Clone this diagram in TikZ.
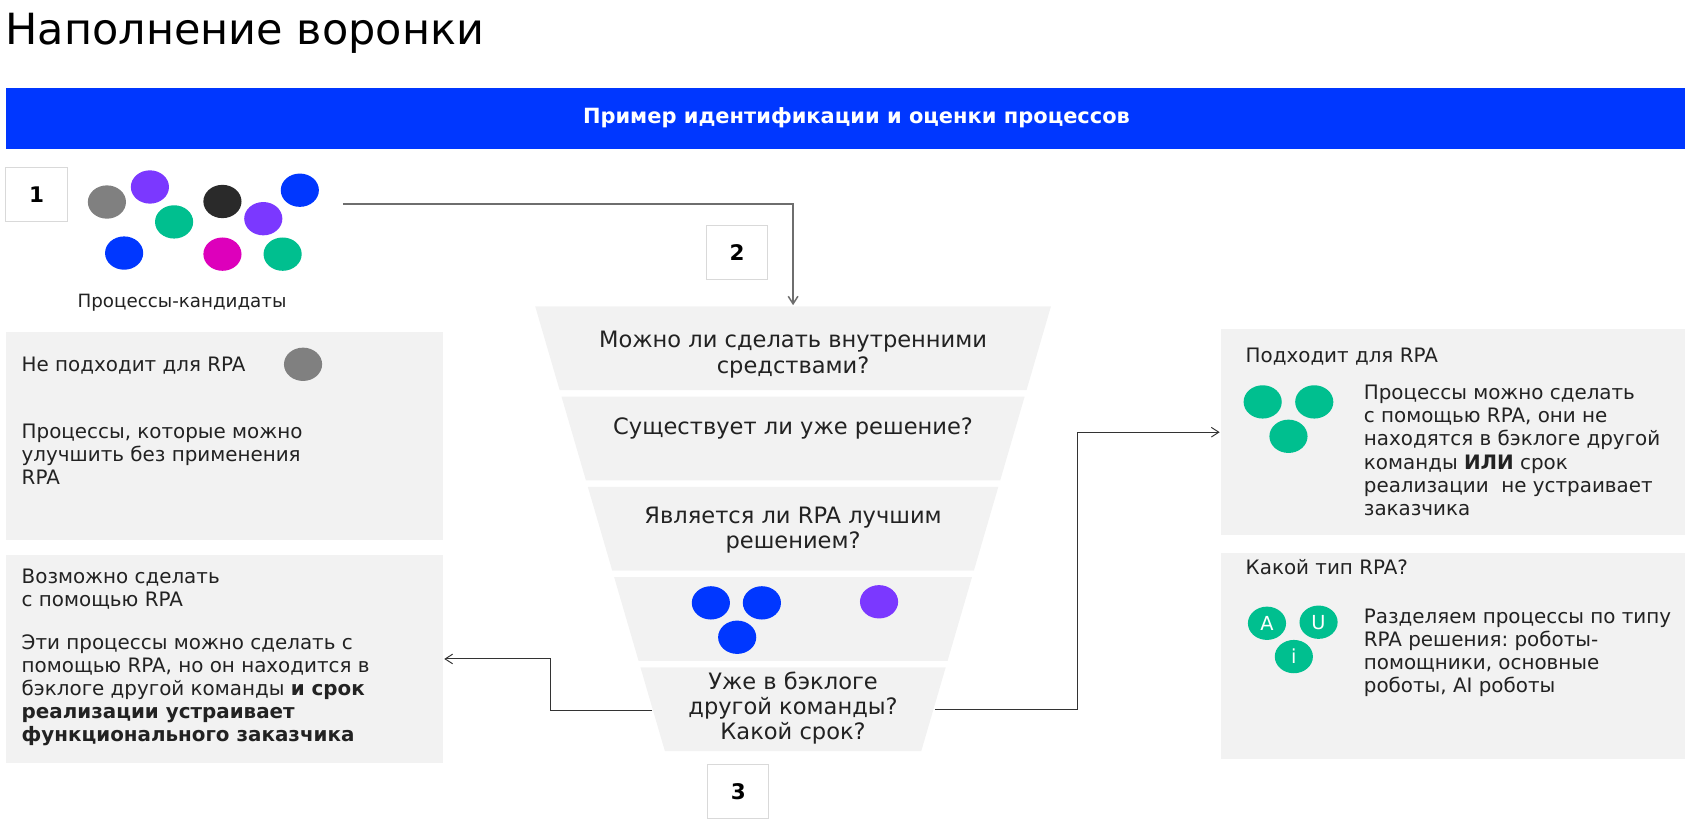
\documentclass[tikz,border=0pt]{standalone}
\usepackage{fontspec}
\setmainfont{DejaVu Sans}
\usetikzlibrary{arrows.meta,positioning,shapes.geometric}
\frenchspacing

\definecolor{brandblue}{HTML}{0037FF}
\definecolor{panelgray}{HTML}{F2F2F2}
\definecolor{dotgray}{HTML}{808080}
\definecolor{dotpurple}{HTML}{7B38FF}
\definecolor{dotgreen}{HTML}{00BF8F}
\definecolor{dotblack}{HTML}{2A2A2A}
\definecolor{dotblue}{HTML}{0037FF}
\definecolor{dotmagenta}{HTML}{DD00BB}
\definecolor{txtdark}{HTML}{222222}
\definecolor{linegray}{HTML}{6E6E6E}

\newcommand{\fsz}[2]{\fontsize{#1}{#2}\selectfont}

\begin{document}
\begin{tikzpicture}[x=1pt, y=-1pt,
    procdot/.style={ellipse, minimum width=35.5pt, minimum height=31pt, inner sep=0pt, fill=#1},
    numbox/.style={draw=black!15, fill=white, line width=.8pt, minimum width=57pt, minimum height=50pt, font=\fsz{20}{24}\bfseries},
    panel/.style={fill=panelgray, inner sep=0pt, anchor=north west},
    boxtext/.style={anchor=base west, align=left, inner sep=0pt, text=txtdark, font=\fsz{18.5}{21.5}},
    funneltext/.style={align=center, inner sep=0pt, text=txtdark, font=\fsz{21}{23.5}},
    flow/.style={-{Straight Barb[length=7pt,width=9pt]}, line width=.9pt, black!80},
  ]
  \useasboundingbox (0,0) rectangle (1568,765);

  \node[anchor=base west, inner sep=0pt, font=\fsz{40}{48}] (title) at (5,41) {Наполнение воронки};
  \node[panel, fill=brandblue, minimum width=1563pt, minimum height=56pt] (bar) at (5,82) {};
  \node[text=white, font=\fsz{19.5}{23}\bfseries] (bartitle) at (797,110) {Пример идентификации и оценки процессов};

  % candidates
  \node[numbox] (num1) at (34,181) {1};
  \foreach \name/\x/\y/\c in {a/99.5/188/dotgray, b/139.5/174/dotpurple, c/162/206.5/dotgreen,
      d/207/187.5/dotblack, e/245/203.5/dotpurple, f/279/177/dotblue,
      g/115.5/235.5/dotblue, h/207/236.5/dotmagenta, i/263/236.5/dotgreen}
    \node[procdot=\c] (cand-\name) at (\x,\y) {};
  \node[anchor=base west, inner sep=0pt, text=txtdark, font=\fsz{17}{20}] (candlabel) at (72,286) {Процессы-кандидаты};

  % funnel
  \foreach \i/\yt in {1/285,2/369,3/453,4/537,5/621} {
    \pgfmathsetmacro{\yb}{\yt+78}
    \pgfmathsetmacro{\wt}{240-0.2916*(\yt-285)}
    \pgfmathsetmacro{\wb}{240-0.2916*(\yb-285)}
    \fill[panelgray] (738-\wt,\yt) -- (738+\wt,\yt) -- (738+\wb,\yb) -- (738-\wb,\yb) -- cycle;
  }
  \node[funneltext] (q1) at (738,330) {Можно ли сделать внутренними\\средствами?};
  \node[funneltext] (q2) at (738,399) {Существует ли уже решение?};
  \node[funneltext] (q3) at (738,493) {Является ли RPA лучшим\\решением?};
  \foreach \name/\x/\y/\c in {a/661.5/561/dotblue, b/709/561/dotblue, c/686/593/dotblue, d/818/560/dotpurple}
    \node[procdot=\c] (kept-\name) at (\x,\y) {};
  \node[funneltext] (q5) at (738,659) {Уже в бэклоге\\другой команды?\\Какой срок?};
  \node[numbox] (num2) at (686,235) {2};
  \node[numbox] (num3) at (687,736.5) {3};

  % left panels (multi-line texts sit on their last baseline)
  \node[panel, minimum width=407pt, minimum height=193pt] (nofit) at (5,309) {};
  \node[boxtext] (nofit-head) at (20,346) {Не подходит для RPA};
  \node[procdot=dotgray] (nofit-dot) at (282,339) {};
  \node[boxtext] (nofit-body) at (20,451) {Процессы, которые можно\\улучшить без применения\\RPA};
  \node[panel, minimum width=407pt, minimum height=194pt] (later) at (5,516) {};
  \node[boxtext] (later-head) at (20,564.5) {Возможно сделать\\с помощью RPA};
  \node[boxtext] (later-body) at (20,690) {Эти процессы можно сделать с\\помощью RPA, но он находится в\\бэклоге другой команды \textbf{и срок}\\\textbf{реализации устраивает}\\\textbf{функционального заказчика}};

  % right panels
  \node[panel, minimum width=432pt, minimum height=192pt] (fit) at (1136,306) {};
  \node[boxtext] (fit-head) at (1159,337) {Подходит для RPA};
  \foreach \name/\x/\y in {a/1175/374, b/1223/374, c/1199/406}
    \node[procdot=dotgreen] (fit-\name) at (\x,\y) {};
  \node[boxtext] (fit-body) at (1269,479.5) {Процессы можно сделать\\с помощью RPA, они не\\находятся в бэклоге другой\\команды \textbf{ИЛИ} срок\\реализации\ \ не устраивает\\заказчика};
  \node[panel, minimum width=432pt, minimum height=192pt] (kind) at (1136,514) {};
  \node[boxtext] (kind-head) at (1159,535) {Какой тип RPA?};
  \foreach \name/\x/\y/\t in {a/1179/580/A, u/1227/579/U, i/1204/611/i}
    \node[procdot=dotgreen, text=white, font=\fsz{18}{20}] (kind-\name) at (\x,\y) {\t};
  \node[boxtext] (kind-body) at (1269,644.5) {Разделяем процессы по типу\\RPA решения: роботы-\\помощники, основные\\роботы, AI роботы};

  % connectors
  \coordinate (cand-out) at (319,190);
  \coordinate (funnel-in) at (738,284);
  \coordinate (q5-west) at (607,661);
  \coordinate (q5-east) at (870,660);
  \draw[flow, linegray, line width=1.4pt] (cand-out) -| (funnel-in);
  \draw[flow, shorten >=1pt] (q5-west) -- ++(-95,0) |- (later.east);
  \draw[flow, shorten >=1pt] (q5-east) -- ++(133,0) |- (fit.west);
\end{tikzpicture}
\end{document}
